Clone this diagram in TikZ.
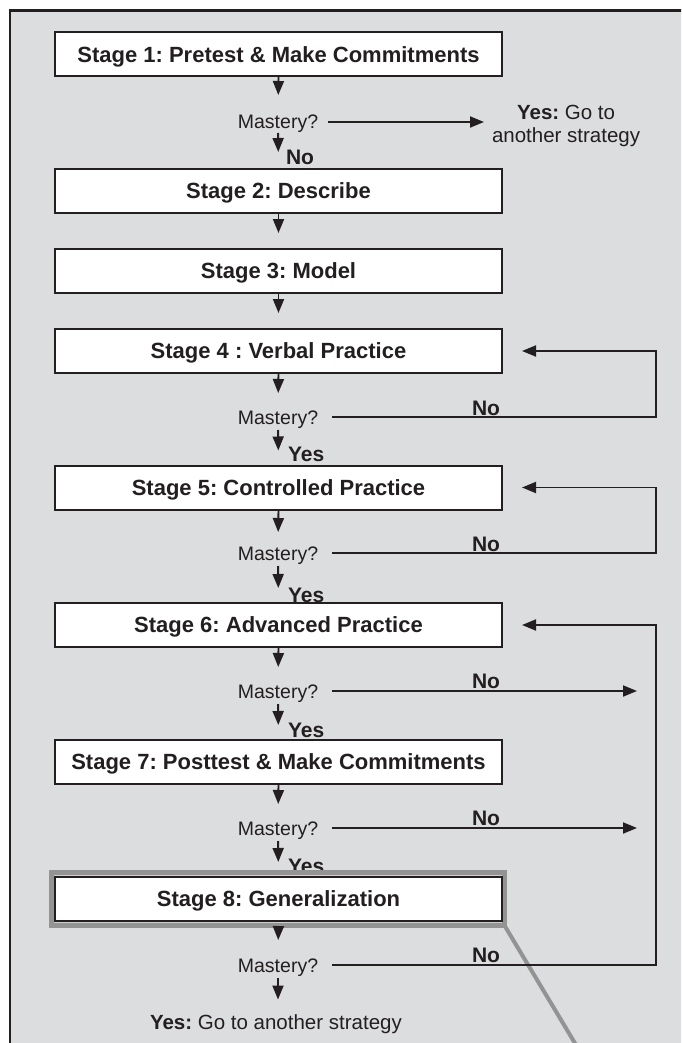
\documentclass[tikz,border=0pt]{standalone}
\usepackage{fontspec}
\setmainfont{Liberation Sans}
\usetikzlibrary{arrows.meta}
\definecolor{bg}{HTML}{DCDDDF}
\definecolor{ink}{HTML}{231F20}
\definecolor{hl}{HTML}{939393}
\frenchspacing
\begin{document}
\begin{tikzpicture}[x=1pt,y=-1pt,
  stagebox/.style={draw=ink, line width=2pt, fill=white, minimum width=447pt, minimum height=44pt,
    inner sep=0pt, outer sep=0pt, font=\fontsize{22}{26}\selectfont\bfseries, text height=15.5pt, text depth=0pt, text=ink},
  mast/.style={font=\fontsize{19.5}{23}\selectfont, text height=14pt, text depth=0pt, inner sep=0pt, outer sep=0pt, text=ink},
  lbl/.style={font=\fontsize{21}{24}\selectfont\bfseries, text height=15pt, text depth=0pt, inner sep=0pt, outer sep=0pt, text=ink},
  plain/.style={font=\fontsize{20.5}{23}\selectfont, inner sep=0pt, outer sep=0pt, text=ink},
  conn/.style={draw=ink, line width=1.9pt},
  arr/.style={conn, -{Triangle[length=14pt,width=11pt]}},
  downa/.style={arr, shorten <=0pt, shorten >=17pt},
  downb/.style={arr, shorten <=6pt, shorten >=15pt},
]
\useasboundingbox (0,0) rectangle (681,1043);
\clip (0,0) rectangle (681,1043);
\draw[ink, line width=2.5pt, fill=bg] (10,10.5) rectangle (760,1120);

% stage boxes 1-7
\node[stagebox] (s1) at (278.5,54.5) {Stage 1: Pretest \& Make Commitments};
\node[stagebox] (s2) at (278.5,191) {Stage 2: Describe};
\node[stagebox] (s3) at (278.5,271) {Stage 3: Model};
\node[stagebox] (s4) at (278.5,351) {Stage 4 : Verbal Practice};
\node[stagebox] (s5) at (278.5,487.5) {Stage 5: Controlled Practice};
\node[stagebox] (s6) at (278.5,625) {Stage 6: Advanced Practice};
\node[stagebox] (s7) at (278.5,762) {Stage 7: Posttest \& Make Commitments};

% mastery questions
\node[mast] (m1) at (278,122) {Mastery?};
\node[mast] (m4) at (278,417) {Mastery?};
\node[mast] (m5) at (278,553) {Mastery?};
\node[mast] (m6) at (278,691) {Mastery?};
\node[mast] (m7) at (278,828) {Mastery?};
\node[mast] (m8) at (278,965) {Mastery?};

% top-right exit
\node[plain, align=center, anchor=west] (yes1) at (492,126) {\textbf{Yes:} Go to\\another strategy};

% labels on down arrows
\node[lbl, anchor=west] (no1) at (286,157) {No};
\node[lbl, anchor=west] (y4) at (288,453.5) {Yes};
\node[lbl, anchor=west] (y5) at (288,594.5) {Yes};
\node[lbl, anchor=west] (y6) at (288,729.5) {Yes};
\node[lbl, anchor=west] (y7) at (288,865.5) {Yes};

% labels on loop lines
\node[lbl] (n4) at (486,408) {No};
\node[lbl] (n5) at (486,544) {No};
\node[lbl] (n6) at (486,681) {No};
\node[lbl] (n7) at (486,818) {No};
\node[lbl] (n8) at (486,955) {No};

% corner coordinates
\coordinate (r4) at (656,417);
\coordinate (r5) at (656,553);
\coordinate (r6) at (656,691);
\coordinate (r7) at (656,828);
\coordinate (r8) at (656,965);

% vertical arrows
\draw[arr, shorten >=20pt] (s1.south) -- (m1.north);
\draw[arr, shorten <=4pt, shorten >=17pt] (m1.south) -- (s2.north);
\draw[arr, shorten >=16pt] (s2.south) -- (s3.north);
\draw[arr, shorten >=16pt] (s3.south) -- (s4.north);
\draw[downa] (s4.south) -- (m4.north);
\draw[downb] (m4.south) -- (s5.north);
\draw[downa, shorten >=14pt] (s5.south) -- (m5.north);
\draw[downb] (m5.south) -- (s6.north);
\draw[downa] (s6.south) -- (m6.north);
\draw[downb] (m6.south) -- (s7.north);
\draw[downa] (s7.south) -- (m7.north);

% horizontal connectors
\draw[arr, shorten <=10pt, shorten >=8pt] (m1.east) -- (m1.east -| yes1.west);
\draw[arr, shorten <=14pt, shorten >=20pt] (m4.east) -- (r4) |- (s4.east);
\draw[arr, shorten <=14pt, shorten >=20pt] (m5.east) -- (r5) |- (s5.east);
\draw[arr, shorten <=14pt, shorten >=19pt] (m6.east) -- (r6);
\draw[arr, shorten <=14pt, shorten >=19pt] (m7.east) -- (r7);

% highlight frame around stage 8
\node[draw=hl, line width=5pt, fill=hl!45!white, minimum width=453pt, minimum height=53pt, inner sep=0pt, outer sep=0pt] (hlbox) at (278,899) {};
\coordinate (tail) at (597,1080);
\draw[hl, line width=4pt] (hlbox.south east) -- (tail);

\node[stagebox] (s8) at (278.5,899) {Stage 8: Generalization};
\draw[downb] (m7.south) -- (s8.north);
\draw[arr, shorten <=7pt, shorten >=18pt] (s8.south) -- (m8.north);
\draw[arr, shorten <=14pt, shorten >=20pt] (m8.east) -- (r8) |- (s6.east);

\node[plain, anchor=west, text height=15pt, text depth=0pt] (yend) at (150,1022) {\textbf{Yes:} Go to another strategy};
\draw[downb] (m8.south) -- (yend.north -| m8.south);
\end{tikzpicture}
\end{document}
